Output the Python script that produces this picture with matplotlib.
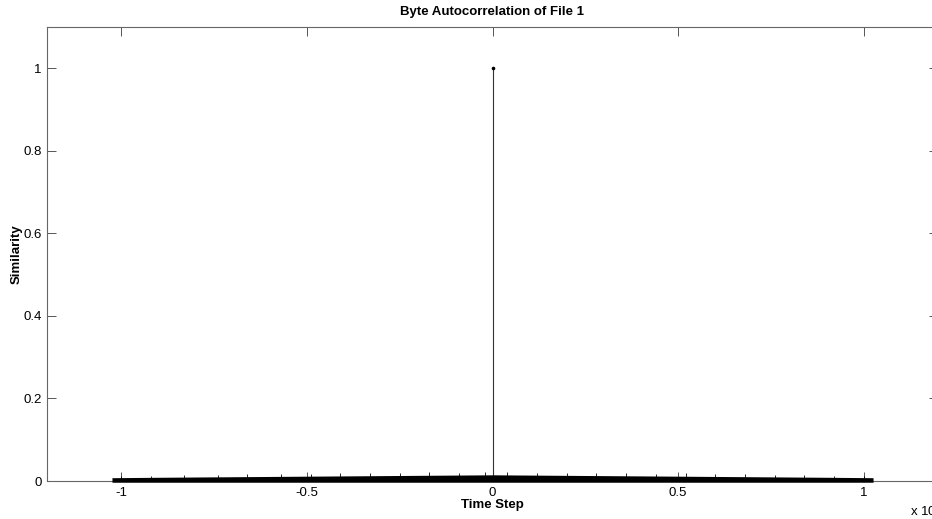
import matplotlib
matplotlib.use('Agg')
import matplotlib.pyplot as plt
import numpy as np

plt.rcParams['font.family'] = ['Liberation Sans', 'DejaVu Sans']

# lags in units of 1e4
band_lags = [-1.025, -0.9, -0.75, -0.6, -0.45, -0.3, -0.15, 0.0, 0.15, 0.3, 0.45, 0.6, 0.75, 0.9, 1.025]
# solid lower band (stem markers piled together)
band_top = [0.008, 0.009, 0.010, 0.011, 0.012, 0.013, 0.014, 0.015, 0.014, 0.013, 0.012, 0.011, 0.010, 0.009, 0.008]
# sparse noise peaks sitting above the band
peak_lags = [-1.0, -0.92, -0.83, -0.74, -0.66, -0.57, -0.49, -0.41, -0.33, -0.25, -0.17, -0.09, -0.02,
             0.04, 0.12, 0.2, 0.28, 0.36, 0.44, 0.52, 0.6, 0.68, 0.76, 0.84, 0.92, 1.0]
peak_vals = [0.011, 0.013, 0.014, 0.015, 0.016, 0.017, 0.018, 0.019, 0.019, 0.020, 0.021, 0.020, 0.022,
             0.021, 0.020, 0.020, 0.019, 0.020, 0.018, 0.019, 0.017, 0.016, 0.015, 0.014, 0.012, 0.011]
zero_lag = 0.0
zero_val = 1.0

fig = plt.figure(figsize=(9.32, 5.19), dpi=100)
ax = fig.add_axes([47/932, 38/519, 891/932, 454/519])

ax.fill_between(band_lags, -0.003, band_top, color='black', lw=0, clip_on=False, zorder=3)
ax.vlines(peak_lags, 0, peak_vals, color='black', lw=0.6, zorder=3)
ax.vlines([zero_lag], 0, [zero_val], color='#333333', lw=0.8)
ax.plot([zero_lag], [zero_val], 'o', color='black', ms=1.6)

ax.set_xlim(-1.2, 1.2)
ax.set_ylim(0, 1.1)
ax.set_xticks([-1, -0.5, 0, 0.5, 1])
ax.set_xticklabels(['-1', '-0.5', '0', '0.5', '1'])
ax.set_yticks([0, 0.2, 0.4, 0.6, 0.8, 1])
ax.set_yticklabels(['0', '0.2', '0.4', '0.6', '0.8', '1'])
ax.tick_params(direction='in', length=6.5, width=0.7, color='#555555',
               top=True, right=True, labelsize=9.5, pad=4)
for s in ax.spines.values():
    s.set_color('#666666')
    s.set_linewidth(0.8)

ax.set_title('Byte Autocorrelation of File 1', fontsize=9.5, fontweight='bold', pad=9)
ax.set_xlabel('Time Step', fontsize=9.5, fontweight='bold', labelpad=0)
ax.set_ylabel('Similarity', fontsize=9.5, fontweight='bold', labelpad=0)
fig.text(910/932, 1 - 511/519, 'x 10$^{4}$', fontsize=9.5, ha='left', va='center')

fig.savefig('out.png', dpi=100)
